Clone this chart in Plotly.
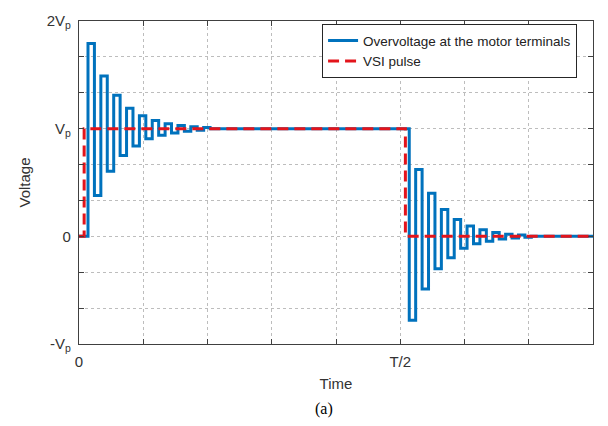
import plotly.graph_objects as go

# Time axis in units where T = 10 (T/2 sits at 5); voltage in units of Vp.
x_tickvals = [0, 1, 2, 3, 4, 5, 6, 7, 8]
x_ticktext = ["0", "", "", "", "", "T/2", "", "", ""]
y_tickvals = [-1, -2/3, -1/3, 0, 1/3, 2/3, 1, 4/3, 5/3, 2]
y_ticktext = ["-V<sub>p</sub>", "", "", "0", "", "", "V<sub>p</sub>", "", "", "2V<sub>p</sub>"]

# VSI pulse: step times and levels
vsi_t = [0, 0.08, 5.08, 8]
vsi_v = [0, 1, 0, 0]

# Motor terminal voltage after the rising edge
rise_t = [0.14, 0.24, 0.34, 0.44, 0.54, 0.64, 0.74, 0.84, 0.94, 1.04,
          1.14, 1.24, 1.34, 1.44, 1.54, 1.64, 1.74, 1.84, 1.94, 2.04]
rise_v = [1.79, 0.38, 1.49, 0.605, 1.31, 0.75, 1.19, 0.84, 1.12, 0.906,
          1.075, 0.94, 1.045, 0.96, 1.03, 0.975, 1.018, 0.985, 1.01, 1.0]

# Motor terminal voltage after the falling edge
fall_t = [5.14, 5.24, 5.34, 5.44, 5.54, 5.64, 5.74, 5.84, 5.94, 6.04,
          6.14, 6.24, 6.34, 6.44, 6.54, 6.64, 6.74, 6.84, 6.94, 7.04]
fall_v = [-0.78, 0.62, -0.49, 0.40, -0.30, 0.25, -0.20, 0.156, -0.11, 0.097,
          -0.07, 0.06, -0.045, 0.035, -0.025, 0.02, -0.015, 0.012, -0.008, 0.0]

motor_t = [0] + rise_t + fall_t + [8]
motor_v = [0] + rise_v + fall_v + [0]

FONT = "Liberation Sans, Arial, Helvetica, sans-serif"
AXIS_COLOR = "#404040"
TEXT_COLOR = "#333333"

fig = go.Figure()
fig.add_trace(go.Scatter(
    x=motor_t, y=motor_v, mode="lines", line_shape="hv",
    line=dict(color="#0072BD", width=3),
    name="Overvoltage at the motor terminals",
))
fig.add_trace(go.Scatter(
    x=vsi_t, y=vsi_v, mode="lines", line_shape="hv",
    line=dict(color="#E3141B", width=3, dash="11px,6px"),
    name="VSI pulse",
))

axis_common = dict(
    showline=True, linecolor=AXIS_COLOR, linewidth=1.3, mirror="allticks",
    ticks="inside", ticklen=5, tickcolor=AXIS_COLOR, tickwidth=1,
    showgrid=True, gridcolor="#bdbdbd", griddash="dot", gridwidth=1,
    zeroline=False, tickfont=dict(family=FONT, size=15, color=TEXT_COLOR),
)

fig.update_xaxes(
    range=[0, 8], tickmode="array", tickvals=x_tickvals, ticktext=x_ticktext,
    ticklabelstandoff=4,
    title=dict(text="Time", font=dict(family=FONT, size=15, color=TEXT_COLOR), standoff=9),
    **axis_common,
)
fig.update_yaxes(
    range=[-1, 2], tickmode="array", tickvals=y_tickvals, ticktext=y_ticktext,
    ticklabelstandoff=4,
    title=dict(text="Voltage", font=dict(family=FONT, size=15, color=TEXT_COLOR), standoff=12),
    **axis_common,
)

fig.add_annotation(
    text="(a)", xref="paper", yref="paper", x=0.476, y=-0.2,
    xanchor="center", yanchor="middle", showarrow=False,
    font=dict(family="Liberation Serif, Times New Roman, serif", size=16, color="#000000"),
)

fig.update_layout(
    width=608, height=426,
    margin=dict(l=79, r=15, t=12, b=82),
    plot_bgcolor="white", paper_bgcolor="white",
    showlegend=True,
    legend=dict(
        x=0.969, y=0.99, xanchor="right", yanchor="top",
        bgcolor="white", bordercolor="#262626", borderwidth=1,
        font=dict(family=FONT, size=13.5, color="#222222"),
        tracegroupgap=0, itemwidth=30,
    ),
)

fig.write_html("out.html")
